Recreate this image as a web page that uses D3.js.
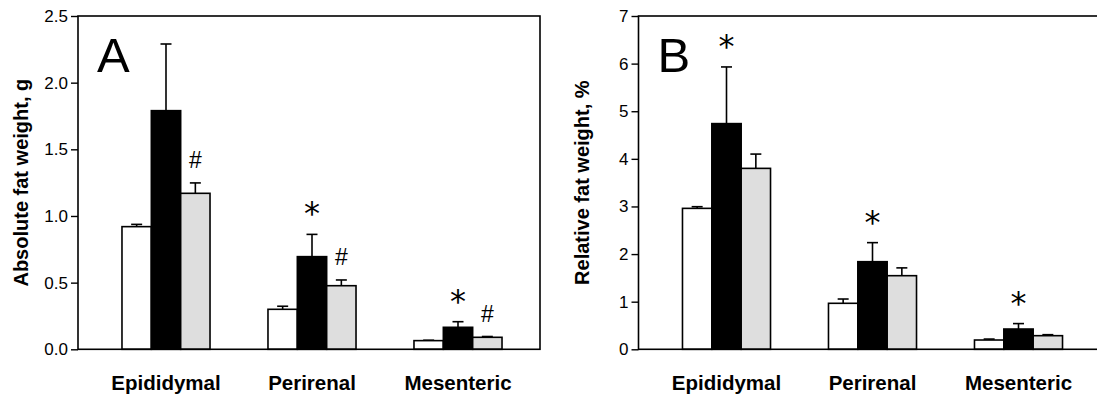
<!DOCTYPE html>
<html>
<head>
<meta charset="utf-8">
<script src="https://cdn.jsdelivr.net/npm/d3@7"></script>
<style>
  body { margin: 0; background: #fff; }
  svg { display: block; font-family: Arial, "Liberation Sans", Helvetica, sans-serif; }
</style>
</head>
<body>
<script>
// fat depots (x categories)
var categories = ['Epididymal', 'Perirenal', 'Mesenteric'];
var groups = ['g1', 'g2', 'g3'];

// panel A: absolute fat weight, g  (rows = depot, cols = group)
var absMean = [[0.92, 1.79, 1.17], [0.30, 0.695, 0.477], [0.065, 0.165, 0.09]];
var absSE = [[0.017, 0.50, 0.078], [0.023, 0.167, 0.043], [0.003, 0.042, 0.006]];
var absMarks = [['', '', '#'], ['', '*', '#'], ['', '*', '#']];
var absTicks = [0, 0.5, 1.0, 1.5, 2.0, 2.5];

// panel B: relative fat weight, %
var relMean = [[2.96, 4.74, 3.80], [0.966, 1.84, 1.546], [0.195, 0.426, 0.286]];
var relSE = [[0.035, 1.19, 0.30], [0.09, 0.40, 0.164], [0.02, 0.114, 0.021]];
var relMarks = [['', '*', ''], ['', '*', ''], ['', '*', '']];
var relTicks = [0, 1, 2, 3, 4, 5, 6, 7];

var fills = ['#ffffff', '#000000', '#dedede'];

var svg = d3.select('body').append('svg')
            .attr('width', 1097)
            .attr('height', 398);

var panel = function(opts){
  var left = opts.left, top = 16, w = 462, h = 333.3;
  var g = svg.append('g').attr('transform', 'translate(' + left + ',' + top + ')');

  var yScale = d3.scaleLinear()
                 .domain([0, opts.ticks[opts.ticks.length - 1]])
                 .range([h, 0]);
  var xScale = d3.scaleBand()
                 .domain(categories)
                 .range([15, 453])
                 .paddingInner(0.397)
                 .paddingOuter(0.1985);
  var xInner = d3.scaleBand()
                 .domain(groups)
                 .range([0, xScale.bandwidth()]);

  // bars
  var depot = g.selectAll('g.depot')
               .data(categories)
               .enter()
               .append('g')
               .classed('depot', true)
               .attr('transform', function(d){ return 'translate(' + xScale(d) + ',0)'; });

  var cells = depot.selectAll('g.bar')
                   .data(function(d, i){
                     return groups.map(function(s, j){
                       return { key: s, j: j, mean: opts.mean[i][j], se: opts.se[i][j], mark: opts.marks[i][j] };
                     });
                   })
                   .enter()
                   .append('g')
                   .classed('bar', true);

  // error bars (upper only)
  cells.append('line')
       .attr('x1', function(d){ return xInner(d.key) + xInner.bandwidth() / 2; })
       .attr('x2', function(d){ return xInner(d.key) + xInner.bandwidth() / 2; })
       .attr('y1', function(d){ return yScale(d.mean); })
       .attr('y2', function(d){ return yScale(d.mean + d.se); })
       .attr('stroke', '#000')
       .attr('stroke-width', 1.6);
  cells.append('line')
       .attr('x1', function(d){ return xInner(d.key) + xInner.bandwidth() / 2 - 5.5; })
       .attr('x2', function(d){ return xInner(d.key) + xInner.bandwidth() / 2 + 5.5; })
       .attr('y1', function(d){ return yScale(d.mean + d.se); })
       .attr('y2', function(d){ return yScale(d.mean + d.se); })
       .attr('stroke', '#000')
       .attr('stroke-width', 1.6);

  cells.append('rect')
       .attr('x', function(d){ return xInner(d.key); })
       .attr('y', function(d){ return yScale(d.mean); })
       .attr('width', xInner.bandwidth())
       .attr('height', function(d){ return h - yScale(d.mean); })
       .attr('fill', function(d){ return fills[d.j]; })
       .attr('stroke', '#000')
       .attr('stroke-width', 1.6);

  // significance marks
  cells.filter(function(d){ return d.mark !== ''; })
       .append('text')
       .attr('x', function(d){ return xInner(d.key) + xInner.bandwidth() / 2; })
       .attr('y', function(d){
         var c = yScale(d.mean + d.se);
         return d.mark === '*' ? c - 27 + 17 : c - 23 + 8;
       })
       .attr('text-anchor', 'middle')
       .attr('font-size', function(d){ return d.mark === '*' ? 32 : 23; })
       .attr('font-family', function(d){
         return d.mark === '*' ? '"DejaVu Sans", Arial, sans-serif' : '"Liberation Sans", Arial, sans-serif';
       })
       .text(function(d){ return d.mark; });

  // frame
  g.append('rect')
   .attr('x', 0).attr('y', 0)
   .attr('width', w).attr('height', h)
   .attr('fill', 'none')
   .attr('stroke', '#000')
   .attr('stroke-width', 1.6);

  var yAxis = d3.axisLeft(yScale)
                .tickValues(opts.ticks)
                .tickFormat(opts.fmt)
                .tickSize(7)
                .tickPadding(3);
  var ya = g.append('g').call(yAxis);
  ya.select('.domain').remove();
  ya.selectAll('line').attr('stroke-width', 1.4);
  ya.selectAll('text').attr('font-size', 17).attr('fill', '#000')
    .attr('font-family', 'Arial, "Liberation Sans", sans-serif');

  // category labels
  g.selectAll('text.cat')
   .data(categories)
   .enter()
   .append('text')
   .classed('cat', true)
   .attr('x', function(d){ return xScale(d) + xScale.bandwidth() / 2; })
   .attr('y', 374)
   .attr('text-anchor', 'middle')
   .attr('font-size', 20.5)
   .attr('font-weight', 'bold')
   .text(function(d){ return d; });

  // y label
  g.append('text')
   .attr('transform', 'translate(' + opts.labelX + ',' + (h / 2) + ') rotate(-90)')
   .attr('text-anchor', 'middle')
   .attr('font-size', 20)
   .attr('font-weight', 'bold')
   .text(opts.label);

  // panel letter
  g.append('text')
   .attr('x', 19)
   .attr('y', 56)
   .attr('font-size', 49)
   .text(opts.letter);
};

panel({ left: 78, mean: absMean, se: absSE, marks: absMarks, ticks: absTicks,
        fmt: d3.format('.1f'), label: 'Absolute fat weight, g', labelX: -50, letter: 'A' });
panel({ left: 638.5, mean: relMean, se: relSE, marks: relMarks, ticks: relTicks,
        fmt: d3.format('d'), label: 'Relative fat weight, %', labelX: -50, letter: 'B' });
</script>
</body>
</html>
